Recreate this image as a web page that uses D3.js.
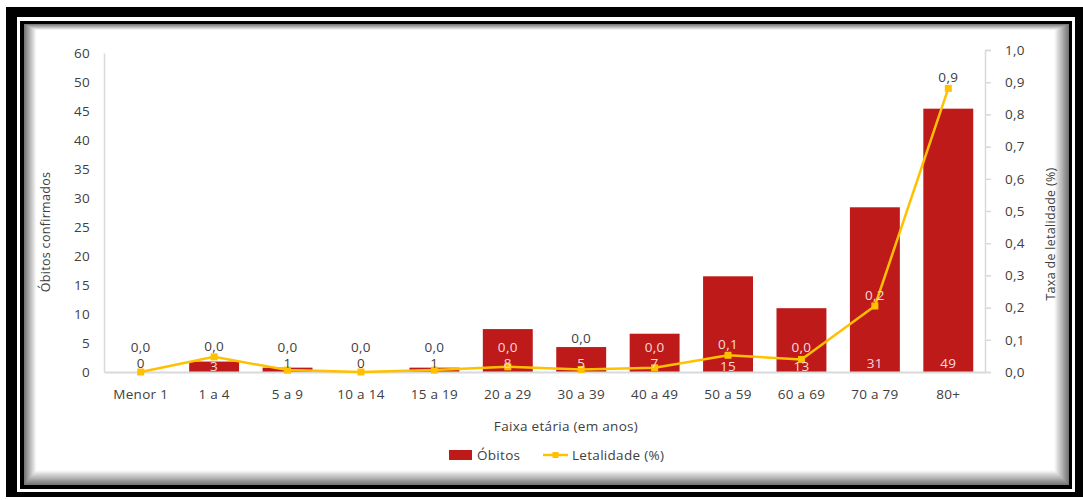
<!DOCTYPE html>
<html>
<head>
<meta charset="utf-8">
<script src="https://cdn.jsdelivr.net/npm/d3@7"></script>
<style>
  body { margin: 0; background: #fff; }
  svg { display: block; }
  text { font-family: "Open Sans", Lato, sans-serif; fill: #404040; letter-spacing: 0.3px; }
</style>
</head>
<body>
<svg width="1083" height="500"></svg>
<script>
const faixas = ["Menor 1", "1 a 4", "5 a 9", "10 a 14", "15 a 19", "20 a 29",
  "30 a 39", "40 a 49", "50 a 59", "60 a 69", "70 a 79", "80+"];
// numbers printed on the bars
const obitos = [0, 3, 1, 0, 1, 8, 5, 7, 15, 13, 31, 49];
// bar heights as drawn in the picture
const obitosBarras = [0, 1.8, 0.75, 0, 0.75, 7.4, 4.3, 6.6, 16.5, 11, 28.4, 45.4];
const letalidade = [0, 0.047, 0.006, 0, 0.006, 0.016, 0.008, 0.013, 0.052, 0.039, 0.205, 0.881];
const leftTicks = [0, 5, 10, 15, 20, 25, 30, 35, 40, 45, 50, 55];
const leftTickLabels = ["0", "5", "10", "15", "20", "25", "30", "35", "40", "45", "50", "60"];
const rightTicks = [0, 0.1, 0.2, 0.3, 0.4, 0.5, 0.6, 0.7, 0.8, 0.9, 1.0];

(function () {
  "use strict";
  const svg = d3.select("svg");
  const red = "#be1a1a";
  const gold = "#ffc000";
  const light = "#f6dcdc";
  const fs = 13.5;
  const comma = v => d3.format(".1f")(v).replace(".", ",");

  // frame
  svg.append("rect").attr("x", 6).attr("y", 7).attr("width", 1077).attr("height", 490).attr("fill", "#000");
  svg.append("rect").attr("x", 17).attr("y", 17).attr("width", 1058).attr("height", 475).attr("fill", "#fff");
  svg.append("rect").attr("x", 20).attr("y", 21).attr("width", 1052).attr("height", 468).attr("fill", "#000");
  const shade = d3.scaleLinear().domain([0, 12]).range(["#777", "#fff"]);
  d3.range(13).forEach(i => {
    svg.append("rect")
      .attr("x", 24 + i).attr("y", 24 + i * 0.5)
      .attr("width", 1045 - i * 2.2).attr("height", 461 - i * 1.7)
      .attr("fill", i === 12 ? "#fff" : shade(i));
  });

  const x = d3.scaleBand().domain(faixas).range([104, 985]).paddingInner(0.32).paddingOuter(0.16);
  const yL = d3.scaleLinear().domain([0, 55]).range([372, 53]);
  const yR = d3.scaleLinear().domain([0, 1]).range([372, 50]);
  const cx = d => x(d) + x.bandwidth() / 2;

  // left axis
  const gl = svg.append("g").attr("transform", "translate(104,0)")
    .call(d3.axisLeft(yL).tickValues(leftTicks).tickSize(0).tickPadding(14)
      .tickFormat((d, i) => leftTickLabels[i]));
  gl.select(".domain").attr("stroke", "#d9d9d9").attr("stroke-width", 1.5);
  gl.selectAll("text").attr("font-size", fs).attr("font-family", null).style("fill", "#404040");

  // right axis
  const gr = svg.append("g").attr("transform", "translate(985,0)")
    .call(d3.axisRight(yR).tickValues(rightTicks).tickSize(6).tickSizeOuter(6).tickPadding(14)
      .tickFormat(comma));
  gr.select(".domain").attr("stroke", "#d9d9d9").attr("stroke-width", 1.5);
  gr.selectAll("line").attr("stroke", "#d9d9d9").attr("stroke-width", 1.5);
  gr.selectAll("text").attr("font-size", fs).attr("font-family", null).style("fill", "#404040");

  // bars
  svg.append("g").selectAll("rect").data(faixas).join("rect")
    .attr("x", d => x(d))
    .attr("y", (d, i) => yL(obitosBarras[i]))
    .attr("width", x.bandwidth())
    .attr("height", (d, i) => yL(0) - yL(obitosBarras[i]))
    .attr("fill", red);

  // bottom axis
  const gb = svg.append("g").attr("transform", "translate(0,372)")
    .call(d3.axisBottom(x).tickSize(0).tickPadding(17));
  gb.select(".domain").attr("stroke", "#d9d9d9").attr("stroke-width", 2);
  gb.selectAll("text").attr("font-size", fs).attr("font-family", null).style("fill", "#404040");

  // line
  svg.append("path")
    .datum(faixas)
    .attr("fill", "none").attr("stroke", gold).attr("stroke-width", 2.5)
    .attr("d", d3.line().x(d => cx(d)).y((d, i) => yR(letalidade[i])));
  svg.append("g").selectAll("rect").data(faixas).join("rect")
    .attr("x", d => cx(d) - 3.5)
    .attr("y", (d, i) => yR(letalidade[i]) - 3.5)
    .attr("width", 7).attr("height", 7).attr("fill", gold);

  // bar labels
  faixas.forEach((d, i) => {
    const top = yL(obitosBarras[i]);
    const py = yR(letalidade[i]);
    const ly = py > 352 && py < 362 ? 366 : 363;
    svg.append("text")
      .attr("x", cx(d)).attr("y", ly)
      .attr("text-anchor", "middle").attr("dominant-baseline", "central")
      .attr("font-size", fs)
      .style("fill", top < ly - 3 ? light : "#404040")
      .text(obitos[i]);
  });

  // line labels
  faixas.forEach((d, i) => {
    const top = yL(obitosBarras[i]);
    let ly = Math.min(yR(letalidade[i]) - 11, 347);
    if (Math.abs(top - ly) < 6) ly = top - 9;
    svg.append("text")
      .attr("x", cx(d)).attr("y", ly)
      .attr("text-anchor", "middle").attr("dominant-baseline", "central")
      .attr("font-size", fs)
      .style("fill", ly > top + 3 ? light : "#404040")
      .text(comma(letalidade[i]));
  });

  // axis titles
  svg.append("text").attr("x", 566).attr("y", 426)
    .attr("text-anchor", "middle").attr("dominant-baseline", "central")
    .attr("font-size", fs).text("Faixa etária (em anos)");
  svg.append("text").attr("transform", "translate(45,232) rotate(-90)")
    .attr("text-anchor", "middle").attr("dominant-baseline", "central")
    .attr("font-size", 12.5).text("Óbitos confirmados");
  svg.append("text").attr("transform", "translate(1050,234) rotate(-90)")
    .attr("text-anchor", "middle").attr("dominant-baseline", "central")
    .attr("font-size", 12.5).text("Taxa de letalidade (%)");

  // legend
  const lg = svg.append("g");
  lg.append("rect").attr("x", 449).attr("y", 450).attr("width", 23).attr("height", 10).attr("fill", red);
  lg.append("text").attr("x", 477).attr("y", 455).attr("dominant-baseline", "central")
    .attr("font-size", fs).text("Óbitos");
  lg.append("line").attr("x1", 543).attr("x2", 568).attr("y1", 455).attr("y2", 455)
    .attr("stroke", gold).attr("stroke-width", 2.5);
  lg.append("rect").attr("x", 552.5).attr("y", 452).attr("width", 6).attr("height", 6).attr("fill", gold);
  lg.append("text").attr("x", 572).attr("y", 455).attr("dominant-baseline", "central")
    .attr("font-size", fs).text("Letalidade (%)");
})(d3);
</script>
</body>
</html>
